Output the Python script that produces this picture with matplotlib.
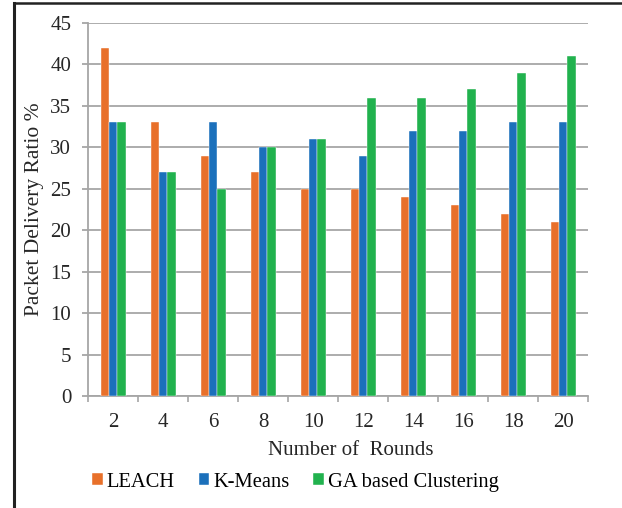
import matplotlib.pyplot as plt
import numpy as np
from matplotlib.lines import Line2D

plt.rcParams['font.family'] = ['Liberation Serif', 'DejaVu Serif']

rounds = ['2', '4', '6', '8', '10', '12', '14', '16', '18', '20']
leach = [42, 33, 29, 27, 25, 25, 24, 23, 22, 21]
kmeans = [33, 27, 33, 30, 31, 29, 32, 32, 33, 33]
ga = [33, 27, 25, 30, 31, 36, 36, 37, 39, 41]

series = [('LEACH', leach, '#E8702A'),
          ('K-Means', kmeans, '#1B70BB'),
          ('GA based Clustering', ga, '#21B24E')]

W, H = 622, 508
fig = plt.figure(figsize=(W / 100, H / 100), dpi=100)
# plot area: x 88..588 px, y 23..396 px
ax = fig.add_axes([88.3 / W, 1 - 396 / H, 500 / W, 373 / H])

x = np.arange(len(rounds))
w = 0.166
for i, (name, vals, col) in enumerate(series):
    ax.bar(x + (i - 1) * w, vals, w, color=col, label=name,
           edgecolor='white', linewidth=0.3, zorder=3)

ax.set_xlim(-0.5, len(rounds) - 0.5)
ax.set_ylim(0, 45)
ax.set_yticks(range(0, 46, 5))
ax.yaxis.grid(True, color='#A6A6A6', linewidth=1.3, zorder=0)

# category ticks sit between the groups, labels in the middle
ax.set_xticks(x)
ax.set_xticklabels(rounds)
ax.set_xticks(np.arange(-0.5, len(rounds), 1.0), minor=True)
ax.tick_params(axis='x', which='major', length=0, labelsize=15, pad=12.5, colors='#262626')
ax.tick_params(axis='x', which='minor', length=4.5, width=1.2, color='#A6A6A6')
ax.tick_params(axis='y', length=4.3, width=1.3, color='#A6A6A6', labelsize=15, pad=8,
               labelcolor='#262626')

for s in ['top', 'right']:
    ax.spines[s].set_visible(False)
for s in ['left', 'bottom']:
    ax.spines[s].set_color('#A6A6A6')
    ax.spines[s].set_linewidth(1.3)

ax.set_xlabel('Number of  Rounds', fontsize=15, color='#262626', va='center')
ax.xaxis.set_label_coords(0.525, -0.1448)
ax.set_ylabel('Packet Delivery Ratio %', fontsize=15.5, color='#262626')
ax.yaxis.set_label_coords(-0.088, 0.5)

ax.legend(loc='center left', bbox_to_anchor=(0.0074, -0.2306), ncol=3, frameon=False,
          fontsize=14.8, handlelength=0.53, handleheight=0.53, handletextpad=0.19,
          columnspacing=1.15, borderaxespad=0, borderpad=0)

# outer frame along the top and left edges
fig.add_artist(Line2D([13.5 / W, 13.5 / W], [0, 1 - 3.3 / H], color='#222222',
                      linewidth=2.2, transform=fig.transFigure))
fig.add_artist(Line2D([13.5 / W, 1], [1 - 3.3 / H, 1 - 3.3 / H], color='#222222',
                      linewidth=1.8, transform=fig.transFigure))

fig.savefig('out.png', dpi=100)
